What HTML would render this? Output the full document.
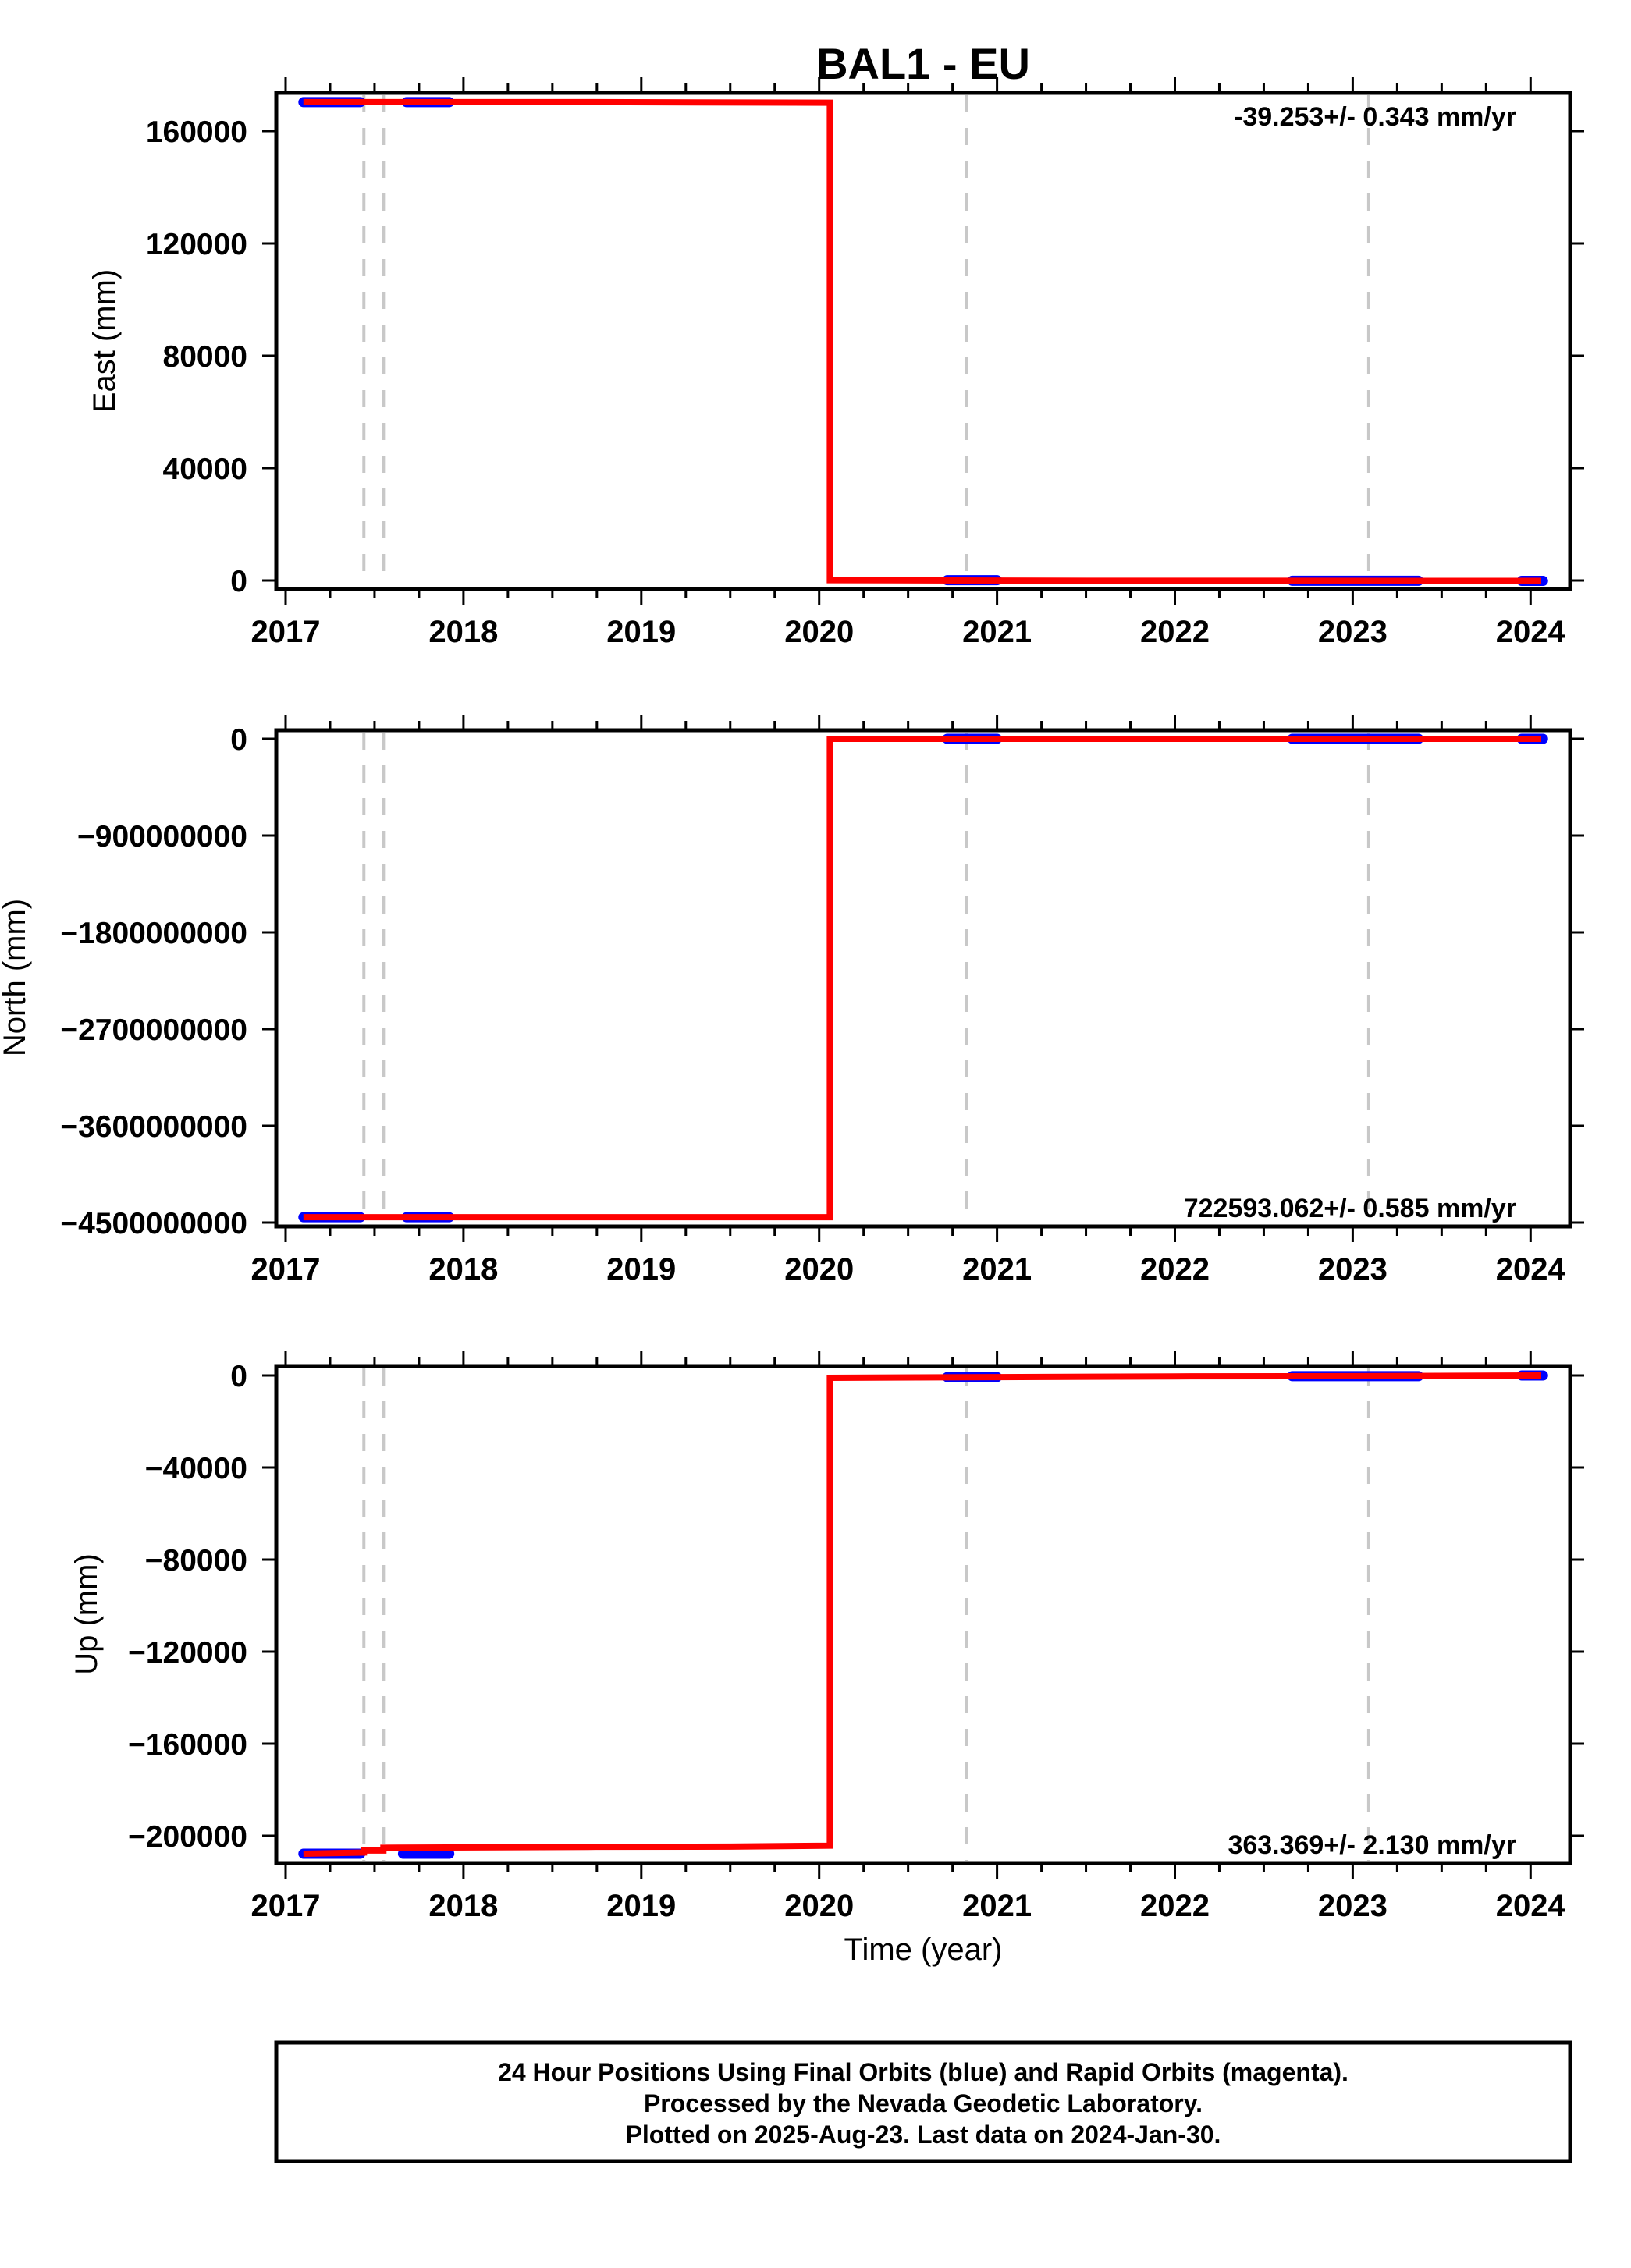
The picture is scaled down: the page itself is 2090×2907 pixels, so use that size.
<!DOCTYPE html>
<html><head><meta charset="utf-8"><style>
html,body{margin:0;padding:0;background:#fff;}
svg text{font-family:"Liberation Sans",sans-serif;}
</style></head><body>
<svg id="chart" xmlns="http://www.w3.org/2000/svg" width="2090" height="2902" viewBox="0 0 2090 2902">
<rect x="0" y="0" width="2090" height="2902" fill="#fff"/>
<text x="1183" y="101" font-size="56" font-weight="bold" text-anchor="middle">BAL1 - EU</text>
<text x="1183" y="2512" font-size="40" text-anchor="middle">Time (year)</text>
<g>
<rect x="354" y="2618" width="1658" height="152" fill="none" stroke="#000" stroke-width="5"/>
<text x="1183" y="2667" font-size="32" font-weight="bold" text-anchor="middle">24 Hour Positions Using Final Orbits (blue) and Rapid Orbits (magenta).</text>
<text x="1183" y="2707" font-size="32" font-weight="bold" text-anchor="middle">Processed by the Nevada Geodetic Laboratory.</text>
<text x="1183" y="2747" font-size="32" font-weight="bold" text-anchor="middle">Plotted on 2025-Aug-23. Last data on 2024-Jan-30.</text>
</g>
</svg>
<script>
// shared data
const yearTicks = [2017, 2018, 2019, 2020, 2021, 2022, 2023, 2024];
const eventLines = [2017.44, 2017.55, 2020.83, 2023.09];

// East panel
const eastTicks = [0, 40000, 80000, 120000, 160000];
const eastTickLabels = ["0", "40000", "80000", "120000", "160000"];
const eastRedT = [2017.1, 2018.7, 2020.06, 2020.06, 2021.5, 2022.65, 2024.06];
const eastRedV = [170300, 170300, 170100, 100, -100, -100, -150];
const eastBlueStart = [2017.1, 2017.68, 2020.72, 2022.66, 2023.95];
const eastBlueEnd = [2017.42, 2017.92, 2021.0, 2023.37, 2024.07];
const eastBlueV = [170300, 170300, 100, -100, -150];

// North panel
const northTicks = [0, -900000000, -1800000000, -2700000000, -3600000000, -4500000000];
const northTickLabels = ["0", "\u2212900000000", "\u22121800000000", "\u22122700000000", "\u22123600000000", "\u22124500000000"];
const northRedT = [2017.1, 2020.06, 2020.06, 2024.06];
const northRedV = [-4450000000, -4450000000, 0, 0];
const northBlueStart = [2017.1, 2017.68, 2020.72, 2022.66, 2023.95];
const northBlueEnd = [2017.42, 2017.92, 2021.0, 2023.37, 2024.07];
const northBlueV = [-4450000000, -4450000000, 0, 0, 0];

// Up panel
const upTicks = [0, -40000, -80000, -120000, -160000, -200000];
const upTickLabels = ["0", "\u221240000", "\u221280000", "\u2212120000", "\u2212160000", "\u2212200000"];
const upRedT = [2017.1, 2017.44, 2017.44, 2017.55, 2017.55, 2018.7, 2019.5, 2020.06, 2020.06, 2021.0, 2022.0, 2023.0, 2024.06];
const upRedV = [-207800, -207300, -206400, -206400, -205200, -204800, -204700, -204300, -1000, -700, -400, -300, 0];
const upBlueStart = [2017.1, 2017.66, 2020.72, 2022.66, 2023.95];
const upBlueEnd = [2017.42, 2017.92, 2021.0, 2023.37, 2024.07];
const upBlueV = [-207800, -207800, -700, -300, 0];

const NS = "http://www.w3.org/2000/svg";
const svg = document.getElementById('chart');
const X0 = 354, X1 = 2012;
function xs(t){ return 366 + (t - 2017) * 227.9; }
function mk(tag, attrs, parent){
  const e = document.createElementNS(NS, tag);
  for (const k in attrs) e.setAttribute(k, attrs[k]);
  (parent || svg).appendChild(e);
  return e;
}

function panel(cfg){
  const g = mk('g', {});
  
  
  const ys = v => cfg.y0 + (v - cfg.v0) * cfg.k;
  // event lines
  eventLines.forEach(t => {
    const l = mk('line', {x1: xs(t), x2: xs(t), y1: cfg.top + 3, y2: cfg.bot - 3, stroke: '#c8c8c8', 'stroke-width': 4, 'stroke-dasharray': '22 20'}, g);
    
    
  });
  // blue segments
  for (let i = 0; i < cfg.bs.length; i++) {
    const l = mk('line', {x1: xs(cfg.bs[i]), x2: xs(cfg.be[i]), y1: ys(cfg.bv[i]), y2: ys(cfg.bv[i]), stroke: '#0000ff', 'stroke-width': 13, 'stroke-linecap': 'round'}, g);
    
    
  }
  // red line
  const pts = cfg.rt.map((t, i) => xs(t).toFixed(1) + ',' + ys(cfg.rv[i]).toFixed(1)).join(' ');
  const pl = mk('polyline', {points: pts, fill: 'none', stroke: '#ff0000', 'stroke-width': 8, 'stroke-linejoin': 'miter'}, g);
  
  
  // frame
  const fr = mk('rect', {x: X0, y: cfg.top, width: X1 - X0, height: cfg.bot - cfg.top, fill: 'none', stroke: '#000', 'stroke-width': 5}, g);
  
  
  // x ticks
  for (let q = 0; q <= 28; q++) {
    const t = 2017 + q / 4, major = q % 4 === 0, len = major ? 18 : 10;
    mk('line', {x1: xs(t), x2: xs(t), y1: cfg.top - 2, y2: cfg.top - 2 - len, stroke: '#000', 'stroke-width': 3}, g);
    mk('line', {x1: xs(t), x2: xs(t), y1: cfg.bot + 2, y2: cfg.bot + 2 + len, stroke: '#000', 'stroke-width': 3}, g);
  }
  yearTicks.forEach(yr => {
    const tx = mk('text', {x: xs(yr), y: cfg.bot + 68, 'font-size': 40, 'font-weight': 'bold', 'text-anchor': 'middle'}, g);
    
    
    tx.textContent = String(yr);
  });
  // y ticks
  cfg.ticks.forEach((v, i) => {
    const y = ys(v);
    mk('line', {x1: X0 - 2, x2: X0 - 18, y1: y, y2: y, stroke: '#000', 'stroke-width': 3}, g);
    mk('line', {x1: X1 + 2, x2: X1 + 18, y1: y, y2: y, stroke: '#000', 'stroke-width': 3}, g);
    const tx = mk('text', {x: 317, y: y + 14, 'font-size': 39, 'font-weight': 'bold', 'text-anchor': 'end'}, g);
    
    
    tx.textContent = cfg.labels[i];
  });
  const at = mk('text', {x: 0, y: 0, 'font-size': 40, 'text-anchor': 'middle', transform: 'translate(' + cfg.tx + ',' + cfg.ty + ') rotate(-90)'}, g);
  
  
  at.textContent = cfg.title;
  const rt = mk('text', {x: 1943, y: cfg.rateY, 'font-size': 34, 'font-weight': 'bold', 'text-anchor': 'end'}, g);
  
  
  rt.textContent = cfg.rate;
}

panel({name:'east', top:119, bot:755, y0:744, v0:0, k:-144/40000, ticks:eastTicks, labels:eastTickLabels,
  rt:eastRedT, rv:eastRedV, bs:eastBlueStart, be:eastBlueEnd, bv:eastBlueV,
  title:'East (mm)', tx:147, ty:437, rate:'-39.253+/- 0.343 mm/yr', rateY:161});
panel({name:'north', top:936, bot:1572, y0:947, v0:0, k:-124/900000000, ticks:northTicks, labels:northTickLabels,
  rt:northRedT, rv:northRedV, bs:northBlueStart, be:northBlueEnd, bv:northBlueV,
  title:'North (mm)', tx:32, ty:1253, rate:'722593.062+/- 0.585 mm/yr', rateY:1560});
panel({name:'up', top:1751, bot:2388, y0:1763, v0:0, k:-118/40000, ticks:upTicks, labels:upTickLabels,
  rt:upRedT, rv:upRedV, bs:upBlueStart, be:upBlueEnd, bv:upBlueV,
  title:'Up (mm)', tx:124, ty:2069, rate:'363.369+/- 2.130 mm/yr', rateY:2376});
</script>
</body></html>
